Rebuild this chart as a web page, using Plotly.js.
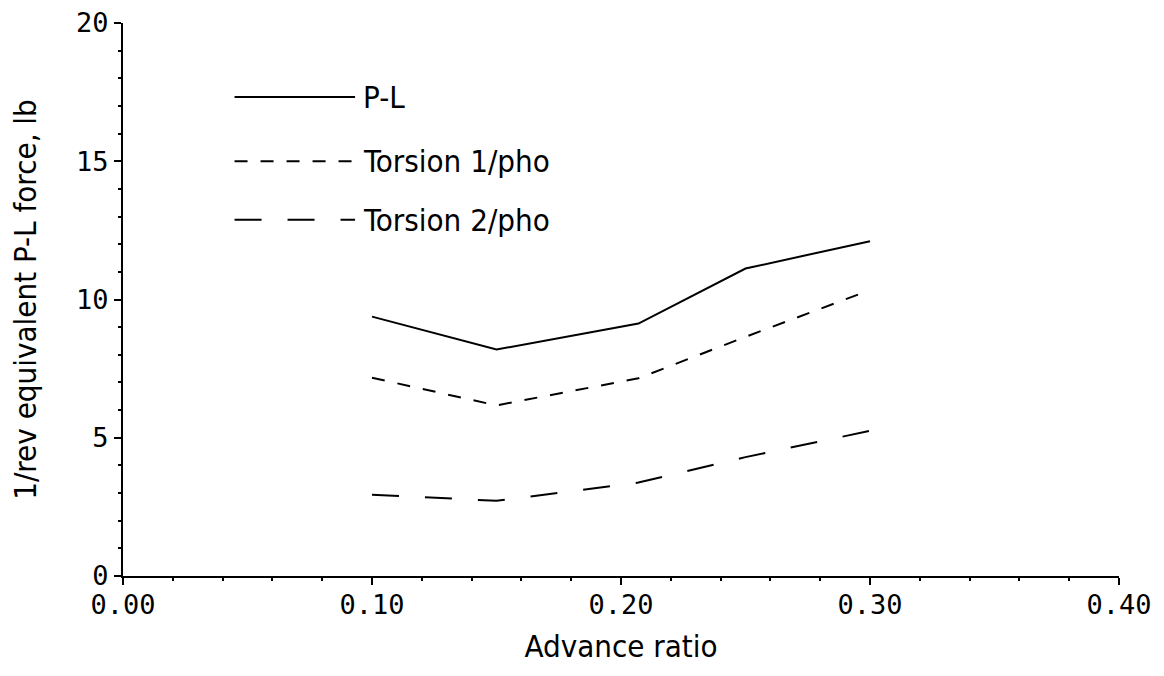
<!DOCTYPE html>
<html>
<head>
<meta charset="utf-8">
<script src="https://cdn.plot.ly/plotly-3.0.1.min.js"></script>
<style>
  html, body { margin: 0; padding: 0; background: #fff; }
  #chart { width: 1164px; height: 676px; }
</style>
</head>
<body>
<div id="chart"></div>
<script>
// values
var advanceRatio = [0.10, 0.15, 0.207, 0.25, 0.30]
var plForce = [9.38, 8.19, 9.13, 11.12, 12.11]
var torsion1 = [7.17, 6.17, 7.15, 8.65, 10.34]
var torsion2 = [2.94, 2.72, 3.38, 4.30, 5.25]

var seriesNames = ['P-L', 'Torsion 1/pho', 'Torsion 2/pho']
var seriesDash = ['solid', '13px,13px', '27px,26px']

var xTickVals = [0, 0.1, 0.2, 0.3, 0.4]
var xTickText = ['0.00', '0.10', '0.20', '0.30', '0.40']
var yTickVals = [0, 5, 10, 15, 20]

var titleFont = { family: 'DejaVu Sans Condensed, Liberation Sans Narrow, sans-serif', size: 31, color: '#000' }
var tickFont = { family: 'DejaVu Sans Mono, monospace', size: 27, color: '#000' }

var series = [plForce, torsion1, torsion2]
var traces = series.map(function (vals, i) {
  return {
    x: advanceRatio,
    y: vals,
    name: seriesNames[i],
    mode: 'lines',
    showlegend: false,
    hoverinfo: 'skip',
    line: { color: '#000', width: 2, dash: seriesDash[i] }
  }
})

// legend drawn by hand so the sample lines are as long as in the original
var legendY = [0.866, 0.750, 0.644]
var shapes = []
var annotations = []
seriesNames.forEach(function (name, i) {
  shapes.push({
    type: 'line', xref: 'paper', yref: 'paper',
    x0: 0.112, x1: 0.233, y0: legendY[i], y1: legendY[i],
    line: { color: '#000', width: 2, dash: seriesDash[i] }
  })
  annotations.push({
    xref: 'paper', yref: 'paper', x: 0.239, y: legendY[i],
    xanchor: 'left', yanchor: 'middle', showarrow: false,
    text: name, font: titleFont
  })
})

// main axes carry the outside half of each tick, the overlay axes the inside half
var xBase = {
  range: [0, 0.4],
  tickvals: xTickVals,
  ticklen: 7,
  tickwidth: 2,
  tickcolor: '#000',
  showgrid: false,
  zeroline: false
}
var yBase = {
  range: [0, 20],
  tickvals: yTickVals,
  ticklen: 7,
  tickwidth: 2,
  tickcolor: '#000',
  showgrid: false,
  zeroline: false
}

var layout = {
  width: 1164,
  height: 676,
  margin: { l: 123, r: 45, t: 23, b: 100 },
  paper_bgcolor: '#fff',
  plot_bgcolor: '#fff',
  xaxis: Object.assign({}, xBase, {
    ticktext: xTickText,
    ticks: 'outside',
    tickfont: tickFont,
    ticklabelstandoff: -3,
    showline: true,
    linecolor: '#000',
    linewidth: 2,
    minor: { dtick: 0.02, ticks: 'outside', ticklen: 3, tickwidth: 2, tickcolor: '#000' },
    title: { text: 'Advance ratio', font: titleFont, standoff: 16 }
  }),
  xaxis2: Object.assign({}, xBase, {
    overlaying: 'x',
    anchor: 'y',
    side: 'bottom',
    ticks: 'inside',
    showticklabels: false,
    showline: false,
    minor: { dtick: 0.02, ticks: 'inside', ticklen: 3, tickwidth: 2, tickcolor: '#000' }
  }),
  yaxis: Object.assign({}, yBase, {
    ticks: 'outside',
    tickfont: tickFont,
    showline: true,
    linecolor: '#000',
    linewidth: 2,
    minor: { dtick: 1, ticks: 'outside', ticklen: 3, tickwidth: 2, tickcolor: '#000' },
    title: { text: '1/rev equivalent P-L force, lb', font: titleFont, standoff: 30 }
  }),
  yaxis2: Object.assign({}, yBase, {
    overlaying: 'y',
    anchor: 'x',
    side: 'left',
    ticks: 'inside',
    showticklabels: false,
    showline: false,
    minor: { dtick: 1, ticks: 'inside', ticklen: 3, tickwidth: 2, tickcolor: '#000' }
  }),
  shapes: shapes,
  annotations: annotations
}

Plotly.newPlot('chart', traces, layout, { staticPlot: true, displayModeBar: false })
</script>
</body>
</html>
